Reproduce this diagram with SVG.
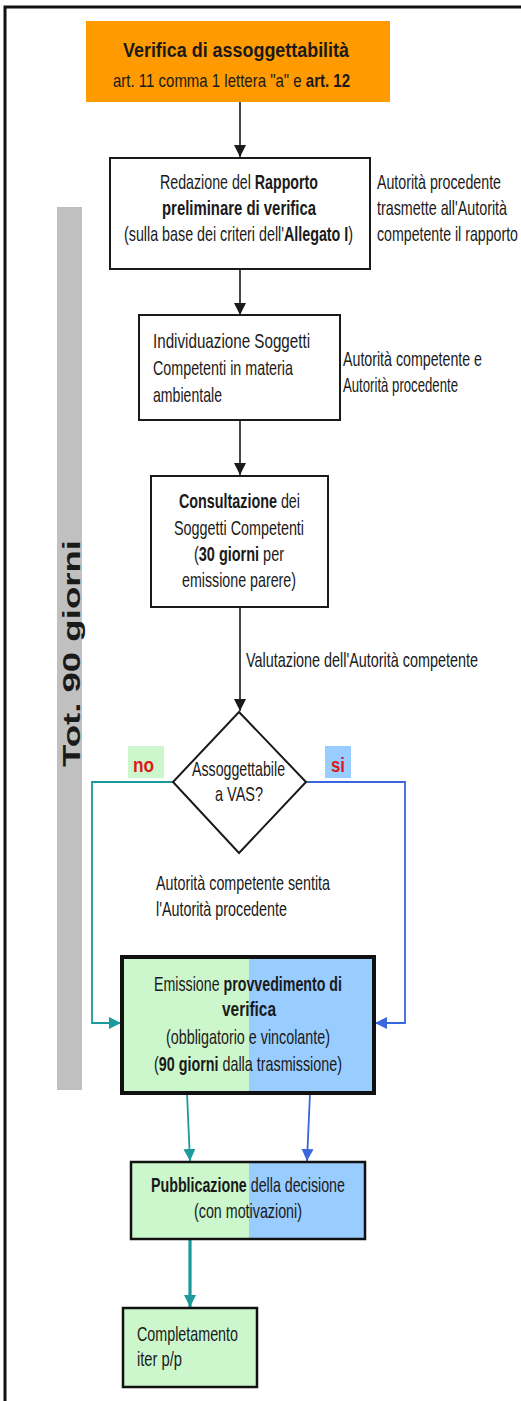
<svg xmlns="http://www.w3.org/2000/svg" width="521" height="1401" viewBox="0 0 521 1401">
<style>
  text { font-family: "Liberation Sans", Arial, sans-serif; fill: #1a1a1a; }
  .t { font-size: 20px; }
  .b { font-weight: bold; }
  .box { fill: #ffffff; stroke: #1a1a1a; stroke-width: 2; }
  .green { fill: #ccf7cc; }
  .blue { fill: #99ccff; }
  .edge { fill: none; stroke: #1a1a1a; stroke-width: 1.6; }
  .teal { fill: none; stroke: #1a9a9a; stroke-width: 1.8; }
  .bl { fill: none; stroke: #3a66dd; stroke-width: 1.8; }
  .lbl { font-size: 20px; font-weight: bold; fill: #dd1a1a; }
</style>
<defs>
  <marker id="ah" markerUnits="userSpaceOnUse" markerWidth="12" markerHeight="14" refX="12" refY="6" orient="auto">
    <path d="M0,0 L12,6 L0,12 Z" fill="#1a1a1a"/>
  </marker>
  <marker id="ahT" markerUnits="userSpaceOnUse" markerWidth="12" markerHeight="14" refX="12" refY="6" orient="auto">
    <path d="M0,0 L12,6 L0,12 Z" fill="#1a9a9a"/>
  </marker>
  <marker id="ahB" markerUnits="userSpaceOnUse" markerWidth="12" markerHeight="14" refX="12" refY="6" orient="auto">
    <path d="M0,0 L12,6 L0,12 Z" fill="#3a66dd"/>
  </marker>
</defs>
<rect width="521" height="1401" fill="#ffffff"/>
<!-- outer frame -->
<path d="M5,1401 V7 H521" fill="none" stroke="#111" stroke-width="3"/>

<!-- gray duration bar -->
<g id="bar">
  <rect x="57" y="207" width="25" height="883" fill="#c0c0c0"/>
  <text class="b" font-size="23" transform="translate(80,767) rotate(-90)" textLength="227" lengthAdjust="spacingAndGlyphs">Tot.  90 giorni</text>
</g>

<!-- connectors -->
<g id="connectors">
  <line class="edge" x1="240" y1="102" x2="240" y2="157" marker-end="url(#ah)"/>
  <line class="edge" x1="240" y1="269" x2="240" y2="315" marker-end="url(#ah)"/>
  <line class="edge" x1="240" y1="420" x2="240" y2="475" marker-end="url(#ah)"/>
  <line class="edge" x1="240" y1="607" x2="240" y2="711" marker-end="url(#ah)"/>
  <path class="teal" d="M173,782 H92 V1023 H121" marker-end="url(#ahT)"/>
  <path class="bl" d="M306,782 H405 V1023 H375" marker-end="url(#ahB)"/>
  <line class="teal" x1="187" y1="1093" x2="190" y2="1161" marker-end="url(#ahT)"/>
  <line class="bl" x1="310" y1="1093" x2="307" y2="1161" marker-end="url(#ahB)"/>
  <line x1="190" y1="1240" x2="190" y2="1307" stroke="#1a9a9a" stroke-width="3.2" marker-end="url(#ahT)"/>
  <text class="t" transform="translate(246,667) scale(0.72,1)" textLength="322.2" lengthAdjust="spacingAndGlyphs">Valutazione dell'Autorità competente</text>
  <rect x="128" y="746" width="36" height="32" fill="#ccf7cc"/>
  <text class="lbl" transform="translate(133,772) scale(0.8,1)" textLength="26.3" lengthAdjust="spacingAndGlyphs">no</text>
  <rect x="325" y="746" width="26" height="32" fill="#99ccff"/>
  <text class="lbl" transform="translate(331,772) scale(0.8,1)" textLength="17.5" lengthAdjust="spacingAndGlyphs">si</text>
  <text class="t" transform="translate(156,890) scale(0.72,1)" textLength="241.7" lengthAdjust="spacingAndGlyphs">Autorità competente sentita</text>
  <text class="t" transform="translate(156,916) scale(0.72,1)" textLength="181.9" lengthAdjust="spacingAndGlyphs">l'Autorità procedente</text>
</g>

<!-- start node -->
<g id="n-start">
  <rect x="86" y="21" width="304" height="81" fill="#ff9a00"/>
  <text class="b" font-size="21" transform="translate(123,57) scale(0.83,1)" textLength="272.3" lengthAdjust="spacingAndGlyphs" fill="#2a1800">Verifica di assoggettabilità</text>
  <text font-size="18" transform="translate(113,87) scale(0.8,1)" textLength="296.3" lengthAdjust="spacingAndGlyphs" fill="#2a1800">art. 11 comma 1 lettera "a" e <tspan class="b">art. 12</tspan></text>
</g>

<!-- rapporto preliminare -->
<g id="n-rapporto">
  <rect class="box" x="110" y="158" width="260" height="111"/>
  <text class="t" transform="translate(160,189) scale(0.72,1)" textLength="219.4" lengthAdjust="spacingAndGlyphs">Redazione del <tspan class="b">Rapporto</tspan></text>
  <text class="t b" transform="translate(162,215) scale(0.72,1)" textLength="213.9" lengthAdjust="spacingAndGlyphs">preliminare di verifica</text>
  <text class="t" transform="translate(124,241) scale(0.72,1)" textLength="318.1" lengthAdjust="spacingAndGlyphs">(sulla base dei criteri dell'<tspan class="b">Allegato I</tspan>)</text>
  <text class="t" transform="translate(377,189) scale(0.72,1)" textLength="172.2" lengthAdjust="spacingAndGlyphs">Autorità procedente</text>
  <text class="t" transform="translate(377,215) scale(0.72,1)" textLength="180.6" lengthAdjust="spacingAndGlyphs">trasmette all'Autorità</text>
  <text class="t" transform="translate(377,241) scale(0.72,1)" textLength="195.8" lengthAdjust="spacingAndGlyphs">competente il rapporto</text>
</g>

<!-- individuazione soggetti -->
<g id="n-individuazione">
  <rect class="box" x="139" y="315" width="201" height="105"/>
  <text class="t" transform="translate(153,348) scale(0.72,1)" textLength="218.1" lengthAdjust="spacingAndGlyphs">Individuazione Soggetti</text>
  <text class="t" transform="translate(153,375) scale(0.72,1)" textLength="194.4" lengthAdjust="spacingAndGlyphs">Competenti in materia</text>
  <text class="t" transform="translate(153,402) scale(0.72,1)" textLength="95.8" lengthAdjust="spacingAndGlyphs">ambientale</text>
  <text class="t" transform="translate(343,366) scale(0.72,1)" textLength="193.1" lengthAdjust="spacingAndGlyphs">Autorità competente e</text>
  <text class="t" transform="translate(343,392) scale(0.72,1)" textLength="159.7" lengthAdjust="spacingAndGlyphs">Autorità procedente</text>
</g>

<!-- consultazione -->
<g id="n-consultazione">
  <rect class="box" x="151" y="476" width="177" height="131"/>
  <text class="t" transform="translate(179,508) scale(0.72,1)" textLength="168.1" lengthAdjust="spacingAndGlyphs"><tspan class="b">Consultazione</tspan> dei</text>
  <text class="t" transform="translate(174,535) scale(0.72,1)" textLength="180.6" lengthAdjust="spacingAndGlyphs">Soggetti Competenti</text>
  <text class="t" transform="translate(194,561) scale(0.72,1)" textLength="125" lengthAdjust="spacingAndGlyphs">(<tspan class="b">30 giorni</tspan> per</text>
  <text class="t" transform="translate(182,587) scale(0.72,1)" textLength="158.3" lengthAdjust="spacingAndGlyphs">emissione parere)</text>
</g>

<!-- decision -->
<g id="n-decisione">
  <polygon points="239,712 306,782 239,853 173,782" fill="#ffffff" stroke="#1a1a1a" stroke-width="2"/>
  <text class="t" transform="translate(192,776) scale(0.72,1)" textLength="129.2" lengthAdjust="spacingAndGlyphs">Assoggettabile</text>
  <text class="t" transform="translate(215,801) scale(0.72,1)" textLength="66.7" lengthAdjust="spacingAndGlyphs">a VAS?</text>
</g>

<!-- emissione provvedimento -->
<g id="n-emissione">
  <rect class="green" x="122" y="957" width="127" height="136"/>
  <rect class="blue" x="249" y="957" width="125" height="136"/>
  <rect x="122" y="957" width="252" height="136" fill="none" stroke="#111" stroke-width="4"/>
  <text class="t" transform="translate(154,991) scale(0.72,1)" textLength="261.1" lengthAdjust="spacingAndGlyphs">Emissione <tspan class="b">provvedimento di</tspan></text>
  <text class="t b" transform="translate(222,1016) scale(0.72,1)" textLength="75" lengthAdjust="spacingAndGlyphs">verifica</text>
  <text class="t" transform="translate(166,1044) scale(0.72,1)" textLength="227.8" lengthAdjust="spacingAndGlyphs">(obbligatorio e vincolante)</text>
  <text class="t" transform="translate(154,1071) scale(0.72,1)" textLength="261.1" lengthAdjust="spacingAndGlyphs">(<tspan class="b">90 giorni</tspan> dalla trasmissione)</text>
</g>

<!-- pubblicazione -->
<g id="n-pubblicazione">
  <rect class="green" x="131" y="1162" width="118" height="77"/>
  <rect class="blue" x="249" y="1162" width="116" height="77"/>
  <rect x="131" y="1162" width="234" height="77" fill="none" stroke="#111" stroke-width="2.5"/>
  <text class="t" transform="translate(151,1192) scale(0.72,1)" textLength="269.4" lengthAdjust="spacingAndGlyphs"><tspan class="b">Pubblicazione</tspan> della decisione</text>
  <text class="t" transform="translate(194,1218) scale(0.72,1)" textLength="150" lengthAdjust="spacingAndGlyphs">(con motivazioni)</text>
</g>

<!-- completamento -->
<g id="n-completamento">
  <rect x="123" y="1308" width="134" height="79" fill="#ccf7cc" stroke="#111" stroke-width="2.5"/>
  <text class="t" transform="translate(137,1341) scale(0.72,1)" textLength="140.3" lengthAdjust="spacingAndGlyphs">Completamento</text>
  <text class="t" transform="translate(137,1366) scale(0.72,1)" textLength="62.5" lengthAdjust="spacingAndGlyphs">iter p/p</text>
</g>
</svg>
